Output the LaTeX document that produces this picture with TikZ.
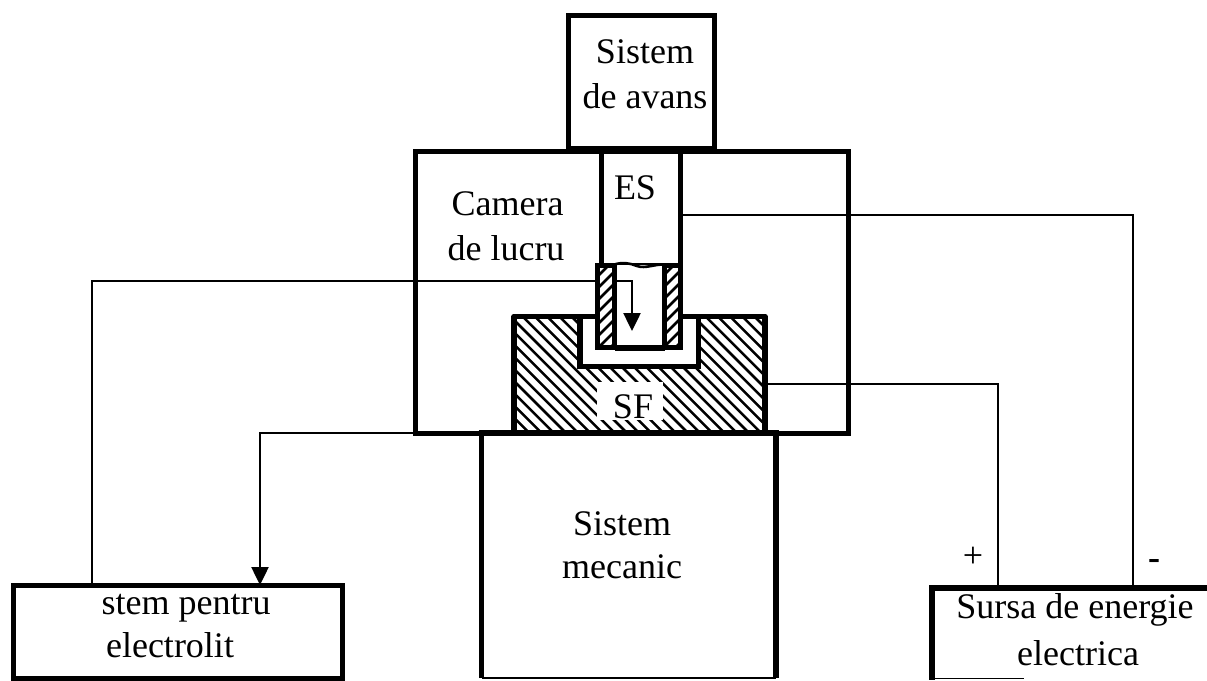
\documentclass[tikz,border=0pt]{standalone}
\usepackage{fontspec}
\setmainfont{Liberation Serif}
\usetikzlibrary{arrows.meta,calc}
\tikzset{
  box/.style={draw=black,line width=5pt,inner sep=0pt,outer sep=0pt},
  frame/.style={draw=black,line width=5pt,inner sep=0pt,outer sep=0pt},
  ghost/.style={inner sep=0pt,outer sep=0pt},
  lbl/.style={anchor=base,inner sep=0pt,outer sep=0pt,text=black,font=\fontsize{36}{42}\selectfont},
  wire/.style={draw=black,line width=2.5pt},
  arr/.style={wire,-{Triangle[length=18pt,width=17pt]}},
  hatch/.style={draw=black,line width=2.5pt},
  heavy/.style={draw=black,line width=5.5pt}
}
\begin{document}
\begin{tikzpicture}[x=1pt,y=-1pt]
\useasboundingbox (0,0) rectangle (1207,680);
\fill[white] (0,0) rectangle (1207,680);

% boxes
\node[frame,minimum width=432.5pt,minimum height=282pt] (camera) at (631.75,292) {};
\node[box,minimum width=146pt,minimum height=133pt] (avans) at (641.5,81.5) {};
\node[frame,minimum width=78.5pt,minimum height=114pt] (es) at (640.75,208) {};
\node[ghost,minimum width=294.5pt,minimum height=243pt] (mecanic) at (628.75,556.5) {};
\draw[heavy] (mecanic.south west) -- (mecanic.north west);
\draw[heavy] (mecanic.south east) -- (mecanic.north east);
\draw[draw=black,line width=2.2pt] (mecanic.south west) -- (mecanic.south east);
\node[box,minimum width=329pt,minimum height=93pt] (electrolit) at (177.5,631.5) {};
\node[ghost,minimum width=283pt,minimum height=90pt] (sursa) at (1073.5,633) {};
\draw[heavy] (1215,588) -- (932,588) -- (932,680);
\draw[draw=black,line width=1.6pt] (932,678.5) -- (1024,678.5);

% SF block and hatching
\begin{scope}
  \clip (513,317) -- (580,317) -- (580,367) -- (698,367) -- (698,317) -- (765,317) -- (765,433) -- (513,433) -- cycle;
  \foreach \k in {0,...,40} {
    \draw[hatch] ({250+\k*12.2},300) -- ++(150,150);
  }
\end{scope}
\draw[heavy,line join=round] (514,433) -- (514,316.5) -- (765,316.5) -- (765,433);
\draw[heavy] (580,316.5) -- (580,366.5) -- (698.5,366.5) -- (698.5,316.5);
\draw[heavy] (478.5,433) -- (779,433);
\node[ghost,fill=white,minimum width=66pt,minimum height=38pt] (sfbg) at (630,401) {};
\node[lbl] (sf) at (633,418) {SF};

% holder
\fill[white] (597,265) rectangle (681,347);
\begin{scope}
  \clip (597,265) rectangle (614,347);
  \foreach \k in {0,...,10} { \draw[hatch] (590,{272+\k*12}) -- ++(30,-30); }
\end{scope}
\begin{scope}
  \clip (664,265) rectangle (681,347);
  \foreach \k in {0,...,10} { \draw[hatch] (655,{272+\k*12}) -- ++(35,-35); }
\end{scope}
\draw[heavy] (597.5,263) -- (597.5,347.5) -- (680.5,347.5) -- (680.5,263);
\draw[heavy] (614.5,263) -- (614.5,347.5);
\draw[heavy] (664.5,263) -- (664.5,347.5);
\draw[draw=black,line width=6pt] (614.5,347.5) -- (664.5,347.5);
\draw[draw=black,line width=5pt] (595,265) -- (614.5,265);
\draw[draw=black,line width=5pt] (664.5,265) -- (683,265);
\draw[draw=black,line width=2.6pt] (614.5,264.5) .. controls (622,262) and (630,263) .. (637,266) .. controls (645,269) and (655,264) .. (664.5,264.5);

% connector end points on the parts
\coordinate (esout) at (es.east |- 0,215);
\coordinate (sfout) at (765,384);
\coordinate (camout) at (camera.west |- 0,433);
\coordinate (holderin) at (597,281);
\coordinate (innerstart) at (615,281);
\coordinate (flowtip) at (632,331);
\coordinate (plus) at (998,588);
\coordinate (minus) at (1133,588);
\coordinate (eleup) at (92,585);
\coordinate (eledown) at (260,585);

% connectors
\draw[wire] (esout) -| (minus);
\draw[wire] (sfout) -| (plus);
\draw[wire] (eleup) |- (holderin);
\draw[arr] (innerstart) -| (flowtip);
\draw[arr] (camout) -| (eledown);

% labels
\node[lbl] (t1) at (645,63) {Sistem};
\node[lbl] (t2) at (645,108) {de avans};
\node[lbl] (t3) at (635,199) {ES};
\node[lbl] (t4) at (507.5,215) {Camera};
\node[lbl] (t5) at (506,260) {de lucru};
\node[lbl] (t6) at (622,535) {Sistem};
\node[lbl] (t7) at (622,578) {mecanic};
\node[lbl] (t8) at (186,614) {stem pentru};
\node[lbl] (t9) at (170,657) {electrolit};
\node[lbl] (t10) at (1075,618) {Sursa de energie};
\node[lbl] (t11) at (1078,665) {electrica};
\node[lbl] (t12) at (973,567) {+};
\node[lbl,font=\fontsize{36}{42}\selectfont\bfseries] (t13) at (1154,569) {-};
\end{tikzpicture}
\end{document}
